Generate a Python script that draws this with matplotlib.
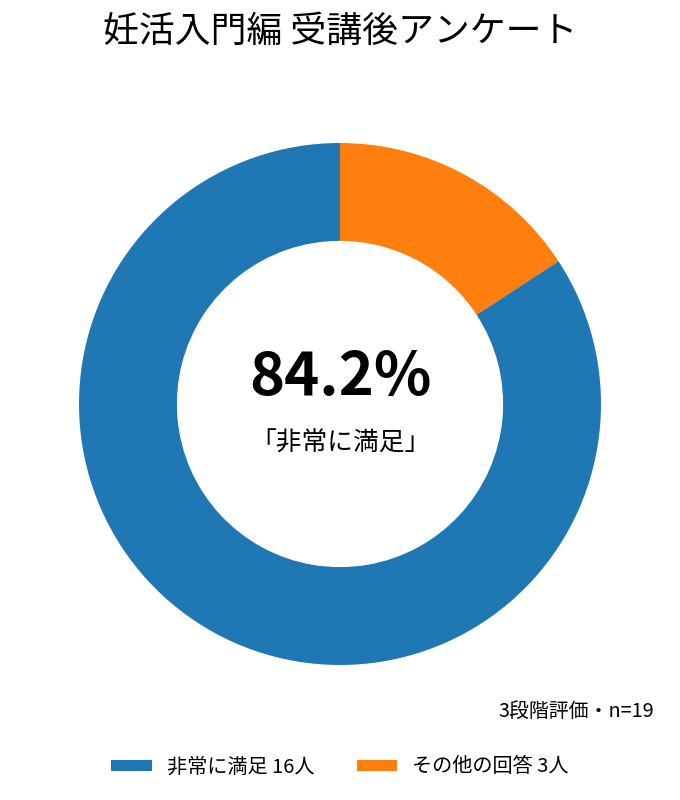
import matplotlib
matplotlib.use('Agg')
import matplotlib.pyplot as plt

plt.rcParams['font.family'] = ['Noto Sans CJK JP', 'DejaVu Sans']

title = '妊活入門編 受講後アンケート'
labels = ['非常に満足', 'その他の回答']
counts = [16, 3]
colors = ['#1f77b4', '#ff7f0e']
note = '3段階評価・n=19'

total = sum(counts)
share = counts[0] / total * 100

fig = plt.figure(figsize=(6.8, 8), dpi=100)

# donut: centre (340, 404) px, radius 261 px
ax = fig.add_axes([79 / 680, 1 - 665 / 800, 522 / 680, 522 / 800])
wedges, _ = ax.pie(counts[::-1], colors=colors[::-1], startangle=90,
                   counterclock=False, radius=1.0,
                   wedgeprops=dict(width=0.375, linewidth=0))
ax.set_xlim(-1, 1)
ax.set_ylim(-1, 1)
ax.set_aspect('equal')
ax.axis('off')

fig.text(0.5, 1 - 378 / 800, f'{share:.1f}%', ha='center', va='center',
         fontsize=43, fontweight='bold')
fig.text(0.5, 1 - 444 / 800, f'「{labels[0]}」', ha='center', va='center',
         fontsize=18.5)

fig.text(0.5, 1 - 32 / 800, title, ha='center', va='center', fontsize=25.8)
fig.text(654 / 680, 1 - 711 / 800, note, ha='right', va='center', fontsize=14.3)

handles = [wedges[1], wedges[0]]
legend_labels = [f'{labels[i]} {counts[i]}人' for i in range(len(labels))]
fig.legend(handles, legend_labels, loc='center',
           bbox_to_anchor=(0.5, 1 - 767 / 800), ncol=2, frameon=False,
           fontsize=14.5, handlelength=2.0, handleheight=0.5,
           handletextpad=0.75, columnspacing=2.1)

fig.savefig('out.png', dpi=100)
